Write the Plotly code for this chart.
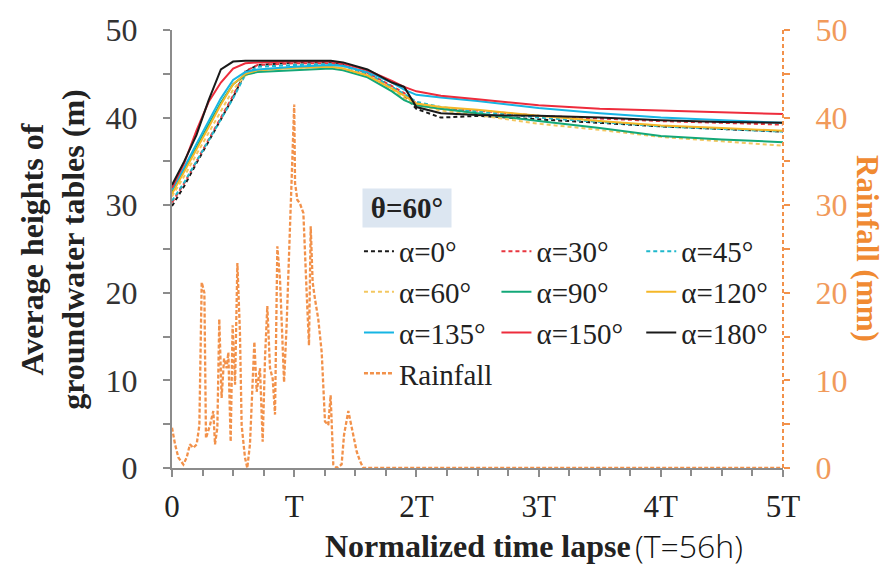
import plotly.graph_objects as go

# ---------------- data ----------------
t_gw = [0, 0.1, 0.2, 0.3, 0.4, 0.5, 0.6, 0.7, 1.0, 1.3, 1.4, 1.6, 1.8, 1.9, 2.0, 2.2, 2.5, 3.0, 3.5, 4.0, 4.5, 5.0]

a0   = [29.9, 32.2, 34.8, 37.3, 39.8, 42.3, 45.2, 46.0, 46.3, 46.3, 46.0, 45.0, 43.5, 42.5, 41.0, 40.0, 40.2, 39.8, 39.4, 39.0, 38.7, 38.4]
a30  = [30.3, 32.5, 35.0, 37.5, 40.0, 42.5, 45.3, 46.0, 46.2, 46.2, 46.0, 45.1, 43.6, 42.8, 41.6, 41.0, 40.8, 40.2, 39.9, 39.6, 39.4, 39.2]
a45  = [30.5, 32.6, 35.0, 37.4, 39.8, 42.2, 44.9, 45.8, 46.0, 46.1, 45.9, 45.0, 43.5, 42.7, 41.8, 41.2, 40.7, 40.0, 39.5, 39.0, 38.7, 38.4]
a60  = [31.0, 33.3, 35.8, 38.3, 40.8, 43.2, 44.8, 45.4, 45.7, 45.8, 45.6, 44.8, 43.2, 42.2, 41.5, 40.8, 40.3, 39.3, 38.6, 37.8, 37.3, 36.8]
a90  = [31.5, 34.0, 36.6, 39.2, 41.7, 43.8, 44.9, 45.2, 45.4, 45.6, 45.4, 44.6, 43.0, 42.0, 41.4, 41.0, 40.5, 39.6, 38.8, 37.9, 37.5, 37.2]
a120 = [31.3, 33.8, 36.3, 38.9, 41.5, 43.8, 45.0, 45.4, 45.7, 45.8, 45.6, 44.8, 43.3, 42.5, 41.6, 41.2, 40.9, 40.2, 39.6, 39.1, 38.8, 38.5]
a135 = [31.8, 34.3, 37.0, 39.6, 42.2, 44.3, 45.2, 45.5, 45.8, 46.0, 45.9, 45.2, 44.0, 43.2, 42.6, 42.3, 41.9, 41.1, 40.5, 40.0, 39.7, 39.4]
a150 = [32.0, 34.8, 38.5, 41.8, 44.0, 45.6, 46.2, 46.3, 46.4, 46.4, 46.2, 45.4, 44.2, 43.5, 43.0, 42.5, 42.1, 41.4, 41.0, 40.8, 40.6, 40.4]
a180 = [32.3, 35.0, 38.0, 42.0, 45.5, 46.4, 46.5, 46.5, 46.5, 46.5, 46.3, 45.5, 44.0, 43.5, 41.2, 40.5, 40.3, 40.2, 40.0, 39.7, 39.5, 39.4]

t_rain = [0, 0.025, 0.052, 0.093, 0.12, 0.147, 0.175, 0.202, 0.224, 0.243, 0.265, 0.278,
          0.311, 0.338, 0.352, 0.371, 0.387, 0.406, 0.426, 0.447, 0.461, 0.48, 0.496, 0.516,
          0.535, 0.556, 0.57, 0.597, 0.616, 0.638, 0.674, 0.693, 0.72, 0.742, 0.761, 0.78,
          0.802, 0.824, 0.843, 0.862, 0.884, 0.917, 0.938, 0.966, 1.0, 1.007, 1.026, 1.047,
          1.075, 1.102, 1.121, 1.135, 1.151, 1.17, 1.197, 1.225, 1.252, 1.279, 1.298, 1.32,
          1.348, 1.388, 1.408, 1.443, 1.47, 1.511, 1.538, 1.566, 5.0]
rain = [4.6, 2.7, 1.2, 0.4, 1.2, 2.7, 2.3, 2.7, 4.9, 21.2, 20.0, 3.4,
        4.9, 6.5, 2.7, 4.6, 17.0, 8.0, 12.5, 11.4, 13.2, 3.0, 16.3, 9.5,
        23.4, 15.5, 4.9, 1.2, 0.0, 2.7, 14.4, 8.7, 11.4, 3.0, 12.5, 18.5,
        11.4, 10.2, 6.1, 25.3, 21.5, 9.8, 16.3, 28.3, 41.5, 32.5, 30.6, 30.2,
        29.1, 20.0, 14.0, 27.6, 21.2, 19.3, 17.0, 13.2, 5.3, 4.9, 8.3, 0.4,
        0.0, 0.4, 3.8, 6.5, 4.6, 1.9, 0.8, 0.0, 0.0]

x_tickvals = [0, 1, 2, 3, 4, 5]
x_ticktext = ["0", "T", "2T", "3T", "4T", "5T"]

series = [
    ("α=0°",   a0,   "#1a1a1a", "4px,3px", "legend"),
    ("α=30°",  a30,  "#e8363f", "4px,3px", "legend2"),
    ("α=45°",  a45,  "#1fb8cc", "4px,3px", "legend3"),
    ("α=60°",  a60,  "#f3c760", "4px,3px", "legend"),
    ("α=90°",  a90,  "#13a878", "solid",   "legend2"),
    ("α=120°", a120, "#f5b728", "solid",   "legend3"),
    ("α=135°", a135, "#16b5e4", "solid",   "legend"),
    ("α=150°", a150, "#ee2c3c", "solid",   "legend2"),
    ("α=180°", a180, "#1a1a1a", "solid",   "legend3"),
]

ORANGE = "#f2914a"
SERIF = "Liberation Serif"

fig = go.Figure()
for name, vals, col, dash, lg in series:
    fig.add_trace(go.Scatter(x=t_gw, y=vals, mode="lines", name=name,
                             line=dict(color=col, width=2, dash=dash), legend=lg))

fig.add_trace(go.Scatter(x=t_rain, y=rain, mode="lines", name="Rainfall", yaxis="y2",
                         line=dict(color=ORANGE, width=2.3, dash="4px,2px"), legend="legend"))

legend_common = dict(font=dict(family=SERIF, size=29, color="#222"), bgcolor="rgba(0,0,0,0)",
                     tracegroupgap=0, itemwidth=30, xanchor="left", yanchor="top", y=0.553)

fig.update_layout(
    width=890, height=569,
    margin=dict(l=172, r=107, t=24, b=101),
    paper_bgcolor="white", plot_bgcolor="white",
    font=dict(family=SERIF, color="#222"),
    showlegend=True,
    legend=dict(x=0.306, **legend_common),
    legend2=dict(x=0.531, **legend_common),
    legend3=dict(x=0.768, **legend_common),
    xaxis=dict(range=[0, 5], tickvals=x_tickvals, ticktext=x_ticktext,
               showgrid=False, zeroline=False, showline=True, linecolor="#8c8c8c", linewidth=2,
               ticks="outside", ticklen=7, tickwidth=2, tickcolor="#8c8c8c",
               minor=dict(dtick=0.25, ticks="outside", ticklen=6, tickwidth=2, tickcolor="#8c8c8c"),
               tickfont=dict(family=SERIF, size=31, color="#222"), ticklabelstandoff=3,
               layer="below traces"),
    yaxis=dict(range=[0, 50], dtick=10, showgrid=False, zeroline=False, showline=True,
               linecolor="#8c8c8c", linewidth=2, ticks="outside", ticklen=7, tickwidth=2,
               tickcolor="#8c8c8c",
               minor=dict(dtick=5, ticks="outside", ticklen=7, tickwidth=2, tickcolor="#8c8c8c"),
               tickfont=dict(family=SERIF, size=32, color="#333"), ticklabelstandoff=19),
    yaxis2=dict(range=[0, 50], dtick=10, overlaying="y", side="right", showgrid=False,
                zeroline=False, showline=False, ticks="outside", ticklen=6, tickwidth=2,
                tickcolor=ORANGE,
                minor=dict(dtick=5, ticks="outside", ticklen=6, tickwidth=2, tickcolor=ORANGE),
                tickfont=dict(family=SERIF, size=32, color="#f19a5a"), ticklabelstandoff=19),
)

# dashed right axis line
fig.add_shape(type="line", xref="paper", yref="paper", x0=1, x1=1, y0=0, y1=1,
              line=dict(color=ORANGE, width=2, dash="4px,3px"), layer="above")

# axis titles
fig.add_annotation(xref="paper", yref="paper", x=-0.195, y=0.5, textangle=-90,
                   text="<b>Average heights of<br>groundwater tables (m)</b>", showarrow=False,
                   font=dict(family=SERIF, size=32, color="#222"), xanchor="center", yanchor="middle")
fig.add_annotation(xref="paper", yref="paper", x=1.139, y=0.5, textangle=90,
                   text="<b>Rainfall (mm)</b>", showarrow=False,
                   font=dict(family=SERIF, size=31, color="#f08a32"), xanchor="center", yanchor="middle")
fig.add_annotation(xref="paper", yref="paper", x=(633 - 172) / 611, y=-0.178,
                   text="<b>Normalized time lapse</b>", showarrow=False,
                   font=dict(family=SERIF, size=32, color="#222"), xanchor="right", yanchor="middle")
fig.add_annotation(xref="paper", yref="paper", x=(633 - 172) / 611, y=-0.178,
                   text="(T=56h)", showarrow=False,
                   font=dict(family="Open Sans", size=32, color="#111", weight=300),
                   xanchor="left", yanchor="middle")

# theta box
fig.add_annotation(xref="paper", yref="paper", x=(362 - 172) / 611, y=(468 - 184) / 444,
                   text="<b>θ=60°</b>", showarrow=False, bgcolor="#dce6f1",
                   font=dict(family=SERIF, size=29, color="#222"), xanchor="left", yanchor="top",
                   width=84, height=34, borderpad=2)

fig.write_html("out.html")
